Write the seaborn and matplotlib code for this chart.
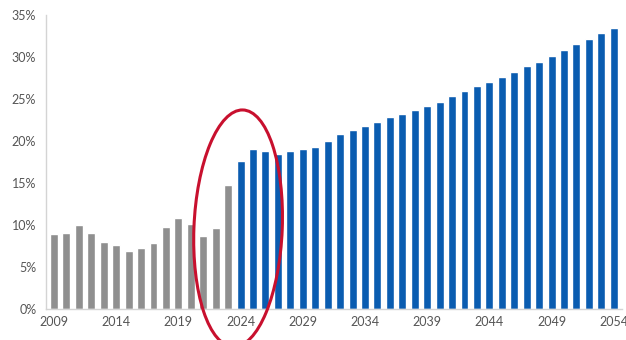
import matplotlib
matplotlib.use("Agg")
import matplotlib.pyplot as plt
from matplotlib.patches import Ellipse
import seaborn as sns
import pandas as pd

years = list(range(2009, 2055))
historical = [8.9, 9.1, 10.0, 9.0, 8.0, 7.6, 6.9, 7.3, 7.9, 9.8, 10.8, 10.1,
              8.7, 9.7, 14.8]
projected = [17.6, 19.0, 18.8, 18.5, 18.8, 19.0, 19.3, 20.0, 20.8, 21.3, 21.8,
             22.3, 22.8, 23.2, 23.7, 24.2, 24.7, 25.3, 25.9, 26.5, 27.0, 27.6,
             28.2, 28.9, 29.4, 30.1, 30.8, 31.5, 32.2, 32.9, 33.5]
periods = ["Historical"] * len(historical) + ["Projected"] * len(projected)
yticks = [0, 5, 10, 15, 20, 25, 30, 35]
xtick_years = [2009, 2014, 2019, 2024, 2029, 2034, 2039, 2044, 2049, 2054]

df = pd.DataFrame({
    "year": [str(y) for y in years],
    "value": historical + projected,
    "period": periods,
})

sns.set_theme(style="white")
plt.rcParams["font.family"] = ["Lato", "DejaVu Sans"]

fig = plt.figure(figsize=(6.26, 3.40), dpi=100)
ax = fig.add_axes([46 / 626, 31 / 340, 576 / 626, 294 / 340])

sns.barplot(data=df, x="year", y="value", hue="period",
            palette={"Historical": "#8f8f8f", "Projected": "#0a5cb0"},
            width=0.64, saturation=1, legend=False, ax=ax)

ax.set_xlim(-0.64, 45.66)
ax.set_ylim(0, 35)
ax.set_yticks(yticks)
ax.set_yticklabels([f"{v}%" for v in yticks])
ax.set_xticks([years.index(y) for y in xtick_years])
ax.set_xticklabels([str(y) for y in xtick_years])
ax.set_xlabel("")
ax.set_ylabel("")
ax.tick_params(axis="both", length=0, labelsize=9, colors="#555555")
ax.tick_params(axis="y", pad=7)
ax.tick_params(axis="x", pad=5)

for side in ["top", "right"]:
    ax.spines[side].set_visible(False)
for side in ["left", "bottom"]:
    ax.spines[side].set_color("#d4d4d4")
    ax.spines[side].set_linewidth(1.0)

# Highlight the transition around 2024
ax.add_patch(Ellipse((14.8, 9.6), width=7.1, height=28.2, angle=-1.5,
                     fill=False, edgecolor="#c8102e", linewidth=2.2,
                     clip_on=False, zorder=5))

fig.savefig("out.png", dpi=100)
